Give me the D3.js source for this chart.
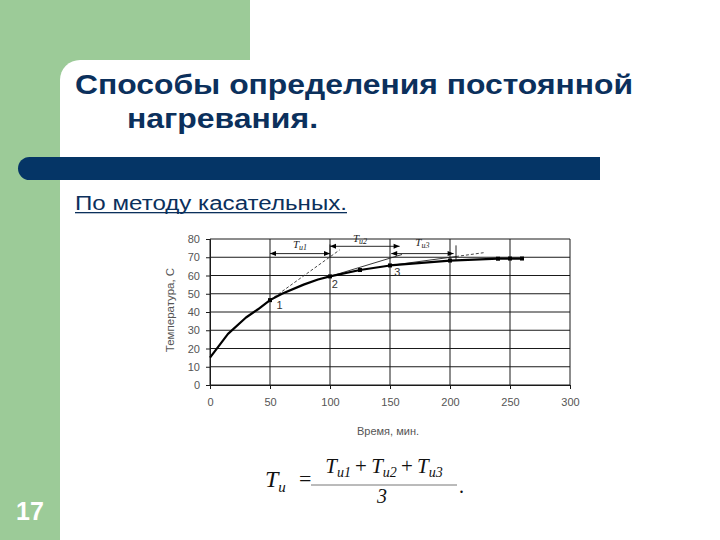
<!DOCTYPE html>
<html><head><meta charset="utf-8">
<script src="https://cdn.jsdelivr.net/npm/d3@7"></script>
<style>body{margin:0;background:#fff}svg{display:block}</style>
</head><body><svg id="c" width="720" height="540"></svg>
<script>
// ---- data ----
const timeMin = [0, 15, 30, 40, 50, 60, 78, 90, 100, 125, 150, 200, 240, 250, 260];
const tempC   = [15, 28, 37, 41.5, 46.5, 50, 55, 57.8, 59.5, 63, 65.5, 68.2, 69.2, 69.3, 69.3];
const markerTimes = [50, 100, 125, 150, 200, 240, 250, 260];
const xTicks = [0, 50, 100, 150, 200, 250, 300];
const yTicks = [0, 10, 20, 30, 40, 50, 60, 70, 80];
const tangentSolid = [[[100, 59.5], [160, 71.5]], [[150, 65.5], [205, 70.4]]];
const tangentDashed = [[[50, 46.5], [108, 74]], [[205, 70.4], [228, 72.5]]];
const arrowNames = ["1", "2", "3"];
const arrowFrom = [50, 100, 151];
const arrowTo = [100, 158, 203];
const arrowLevel = [72, 76, 72];
const arrowLabelX = [75, 125, 177];
const arrowLabelY = [75.3, 78.3, 76.3];
const markTimes = [100, 205];
const markLow = [70, 68.5];
const markHigh = [77, 76.5];
const pointNames = ["1", "2", "3"];
const pointLabelX = [58, 104, 156];
const pointLabelY = [43.5, 55.5, 62];
const titleLine1 = "Способы определения постоянной";
const titleLine2 = "нагревания.";
const subtitle = "По методу касательных.";
const pageNumber = "17";
const yTitle = "Температура, С";
const xTitle = "Время, мин.";

// ---- page decoration ----
const svg = d3.select("#c");
const navy = "#0b305c";
svg.append("rect").attr("x",0).attr("y",0).attr("width",720).attr("height",540).attr("fill","#fff");
svg.append("rect").attr("x",0).attr("y",0).attr("width",250).attr("height",90).attr("fill","#9ccb98");
svg.append("rect").attr("x",0).attr("y",0).attr("width",60).attr("height",540).attr("fill","#9ccb98");
svg.append("rect").attr("x",60).attr("y",60).attr("width",700).attr("height",520).attr("rx",20).attr("fill","#fff");
svg.append("rect").attr("x",60).attr("y",90).attr("width",40).attr("height",450).attr("fill","#fff");
// navy bar with rounded left end
svg.append("path").attr("d","M29.5,157 H600 V180 H29.5 A11.5,11.5 0 0 1 29.5,157 Z").attr("fill","#053566");

const sans = "'Liberation Sans', Arial, sans-serif";
svg.append("text").attr("x",75).attr("y",94).attr("font-family",sans).attr("font-weight","bold")
  .attr("font-size",27).attr("fill",navy).attr("textLength",558).attr("lengthAdjust","spacingAndGlyphs").text(titleLine1);
svg.append("text").attr("x",127).attr("y",128).attr("font-family",sans).attr("font-weight","bold")
  .attr("font-size",27).attr("fill",navy).attr("textLength",191).attr("lengthAdjust","spacingAndGlyphs").text(titleLine2);
svg.append("text").attr("x",75).attr("y",210).attr("font-family",sans)
  .attr("font-size",19.5).attr("fill",navy)
  .attr("textLength",272).attr("lengthAdjust","spacingAndGlyphs").text(subtitle);
svg.append("rect").attr("x",75).attr("y",212).attr("width",272).attr("height",1.3).attr("fill",navy);
svg.append("text").attr("x",16).attr("y",520).attr("font-family",sans).attr("font-weight","bold")
  .attr("font-size",25).attr("fill","#fff").text(pageNumber);

// ---- chart ----
const x = d3.scaleLinear().domain([0, 300]).range([210, 570]);
const y = d3.scaleLinear().domain([0, 80]).range([385, 239]);
const g = svg.append("g");
const gridColor = "#1a1a1a";

g.selectAll("line.hg").data(yTicks).join("line")
  .attr("x1", x(0)).attr("x2", x(300)).attr("y1", d => y(d)).attr("y2", d => y(d))
  .attr("stroke", gridColor).attr("stroke-width", 1);
g.selectAll("line.vg").data(xTicks).join("line")
  .attr("y1", y(0)).attr("y2", y(80)).attr("x1", d => x(d)).attr("x2", d => x(d))
  .attr("stroke", gridColor).attr("stroke-width", 1);

const ax = g.append("g").attr("transform", `translate(0,${y(0)})`)
  .call(d3.axisBottom(x).tickValues(xTicks).tickSize(4).tickPadding(9).tickFormat(d3.format("d")));
const ay = g.append("g").attr("transform", `translate(${x(0)},0)`)
  .call(d3.axisLeft(y).tickValues(yTicks).tickSize(4).tickPadding(6).tickFormat(d3.format("d")));
[ax, ay].forEach(a => {
  a.select(".domain").attr("stroke", gridColor);
  a.selectAll(".tick line").attr("stroke", gridColor);
  a.selectAll("text").attr("font-family", sans).attr("font-size", 11).attr("fill", "#555");
});

svg.append("text").attr("transform", "translate(174,310) rotate(-90)").attr("text-anchor","middle")
  .attr("font-family",sans).attr("font-size",11.5).attr("fill","#555").text(yTitle);
svg.append("text").attr("x",388).attr("y",435).attr("text-anchor","middle")
  .attr("font-family",sans).attr("font-size",11).attr("fill","#555").text(xTitle);

// tangents
const lineGen = d3.line().x(d => x(d[0])).y(d => y(d[1]));
g.selectAll("path.ts").data(tangentSolid).join("path").attr("d", lineGen)
  .attr("fill","none").attr("stroke","#222").attr("stroke-width",0.9);
g.selectAll("path.td").data(tangentDashed).join("path").attr("d", lineGen)
  .attr("fill","none").attr("stroke","#333").attr("stroke-width",0.9).attr("stroke-dasharray","3,2");

// main curve
const pts = timeMin.map((t, i) => [t, tempC[i]]);
g.append("path").attr("d", lineGen(pts))
  .attr("fill","none").attr("stroke","#000").attr("stroke-width",2.2).attr("stroke-linejoin","round");
const tempAt = t => tempC[timeMin.indexOf(t)];
g.selectAll("rect.mk").data(markerTimes).join("rect")
  .attr("x", d => x(d) - 2).attr("y", d => y(tempAt(d)) - 2).attr("width", 4).attr("height", 4).attr("fill", "#000");

// arrows
const serif = "'Liberation Serif', 'Times New Roman', serif";
arrowNames.forEach((n, i) => {
  const yy = y(arrowLevel[i]), x1 = x(arrowFrom[i]), x2 = x(arrowTo[i]);
  g.append("line").attr("x1", x1).attr("x2", x2).attr("y1", yy).attr("y2", yy).attr("stroke","#111").attr("stroke-width",0.9);
  g.append("path").attr("d", `M${x1},${yy} l6,-2.5 v5 Z`).attr("fill","#000");
  g.append("path").attr("d", `M${x2},${yy} l-6,-2.5 v5 Z`).attr("fill","#000");
  const t = g.append("text").attr("x", x(arrowLabelX[i])).attr("y", y(arrowLabelY[i]))
    .attr("text-anchor","middle").attr("font-family",serif).attr("font-style","italic").attr("font-size",11).attr("fill","#222");
  t.append("tspan").text("T");
  t.append("tspan").attr("font-size",8).attr("dy",2).text("и" + n);
});
markTimes.forEach((m, i) => {
  g.append("line").attr("x1", x(m)).attr("x2", x(m)).attr("y1", y(markLow[i])).attr("y2", y(markHigh[i]))
    .attr("stroke","#111").attr("stroke-width",0.9);
});
pointNames.forEach((n, i) => {
  g.append("text").attr("x", x(pointLabelX[i])).attr("y", y(pointLabelY[i])).attr("text-anchor","middle")
    .attr("dy","0.35em").attr("font-family",sans).attr("font-size",11).attr("fill","#333").text(n);
});

// ---- formula ----
const f = svg.append("g").attr("font-family", serif).attr("fill", "#111");
const lhs = f.append("text").attr("x", 265).attr("y", 487).attr("font-size", 24).attr("font-style","italic");
lhs.append("tspan").text("T");
lhs.append("tspan").attr("font-size", 15).attr("dy", 5).text("и");
f.append("text").attr("x", 299).attr("y", 486).attr("font-size", 22).text("=");
const num = f.append("text").attr("x", 384).attr("y", 473).attr("font-size", 21).attr("text-anchor","middle");
["1","2","3"].forEach((n, i) => {
  if (i > 0) num.append("tspan").attr("dy", -4).text("\u2009+\u2009");
  num.append("tspan").attr("font-style","italic").text("T");
  num.append("tspan").attr("font-style","italic").attr("font-size", 14).attr("dy", 4).text("и" + n);
});
f.append("line").attr("x1", 311).attr("x2", 457).attr("y1", 485).attr("y2", 485).attr("stroke", "#777").attr("stroke-width", 1);
f.append("text").attr("x", 382).attr("y", 503).attr("font-size", 20).attr("font-style","italic").attr("text-anchor","middle").text("3");
f.append("text").attr("x", 459).attr("y", 493).attr("font-size", 20).text(".");
</script></body></html>
